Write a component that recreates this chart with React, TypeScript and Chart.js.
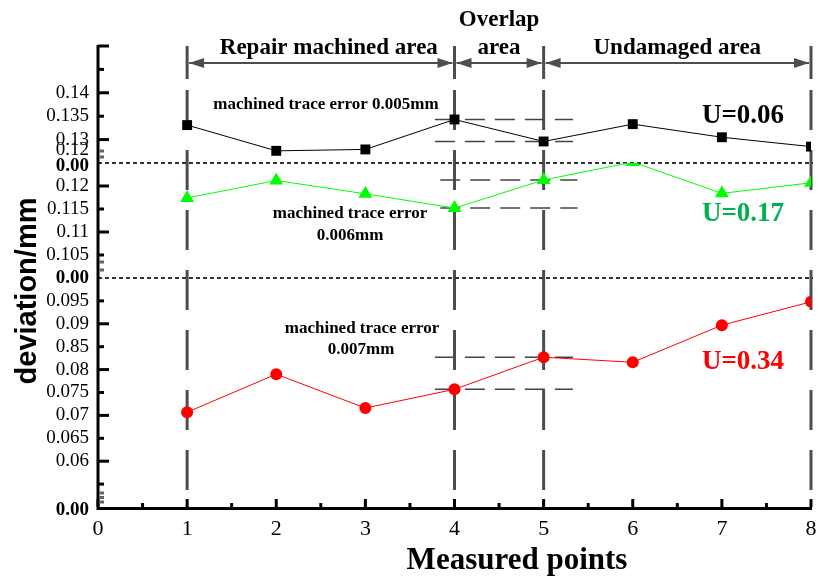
import React, { useEffect, useRef } from 'react';
import { Chart, registerables } from 'chart.js';

Chart.register(...registerables);

// ---- data ----
const xPoints = [1, 2, 3, 4, 5, 6, 7, 8];
const blackValues = [0.1331, 0.1276, 0.1279, 0.1343, 0.1296, 0.1333, 0.1305, 0.1285];
const greenValues = [0.1174, 0.1212, 0.1183, 0.1152, 0.1213, 0.1252, 0.1184, 0.1207];
const redValues = [0.0707, 0.079, 0.0716, 0.0757, 0.0827, 0.0816, 0.0897, 0.0948];

const topRange = [0.125, 0.15];
const midRange = [0.1, 0.125];
const botRange = [0.05, 0.1];

const topTicks = [0.15, 0.145, 0.14, 0.135, 0.13, 0.1278, 0.1243];
const topLabels = ['', '', '0.14', '0.135', '0.13', '0.12', '0.00'];
const topLong = [0.15, 0.14, 0.13];
const topShort = [0.145, 0.135];

const midTicks = [0.12, 0.115, 0.11, 0.105, 0.0999];
const midLabels = ['0.12', '0.115', '0.11', '0.105', '0.00'];
const midLong = [0.12, 0.11];
const midShort = [0.115, 0.105];

const botTicks = [0.095, 0.09, 0.085, 0.08, 0.075, 0.07, 0.065, 0.06, 0.0494];
const botLabels = ['0.095', '0.09', '0.85', '0.08', '0.075', '0.07', '0.065', '0.06', '0.00'];
const botLong = [0.09, 0.08, 0.07, 0.06];
const botShort = [0.095, 0.085, 0.075, 0.065, 0.055];

const xMajorTicks = [0, 1, 2, 3, 4, 5, 6, 7, 8];
const xMinorTicks = [0.5, 1.5, 2.5, 3.5, 4.5, 5.5, 6.5, 7.5];

const areaBounds = [1, 4, 5, 8];
const areaTitles = ['Repair machined area', 'area', 'Undamaged area'];
const overlapTop = 'Overlap';

const uLabels = ['U=0.06', 'U=0.17', 'U=0.34'];
const errorNotes = ['machined trace error 0.005mm', 'machined trace error', '0.006mm', 'machined trace error', '0.007mm'];

const SERIF = "'Liberation Serif', 'Times New Roman', serif";
const SANS = "'Liberation Sans', Arial, sans-serif";

function yScaleOpts(range: number[], ticks: number[], labels: string[], weight: number) {
  return {
    type: 'linear' as const,
    position: 'left' as const,
    stack: 'dev',
    stackWeight: weight,
    min: range[0],
    max: range[1],
    grid: { display: false },
    border: { display: false },
    afterBuildTicks: (scale: any) => {
      scale.ticks = ticks.map((v) => ({ value: v }));
    },
    afterFit: (scale: any) => {
      scale.width = 98;
    },
    ticks: {
      autoSkip: false,
      padding: 1,
      color: '#000',
      font: (ctx: any) => ({
        family: SERIF,
        size: 19,
        weight: labels[ctx.index] === '0.00' ? 'bold' : 'normal',
      }),
      callback: (_v: any, i: number) => labels[i],
    },
  };
}

const decorPlugin = {
  id: 'decor',
  beforeDatasetsDraw(chart: any) {
    const ctx = chart.ctx;
    const xs = chart.scales.x;
    const yT = chart.scales.yTop;
    const yM = chart.scales.yMid;
    const yB = chart.scales.yBot;
    const area = chart.chartArea;
    ctx.save();
    // vertical dashed area boundaries
    ctx.strokeStyle = '#4d4d4d';
    ctx.lineWidth = 3;
    ctx.setLineDash([40, 20]);
    ctx.lineDashOffset = 0;
    areaBounds.forEach((b) => {
      const px = xs.getPixelForValue(b);
      ctx.beginPath();
      ctx.moveTo(px, 90);
      ctx.lineTo(px, area.bottom);
      ctx.stroke();
    });
    // dotted break lines
    ctx.strokeStyle = '#333';
    ctx.lineWidth = 2;
    ctx.setLineDash([4, 3]);
    [yM.getPixelForValue(midRange[1]), yB.getPixelForValue(botRange[1])].forEach((py) => {
      ctx.beginPath();
      ctx.moveTo(area.left, py);
      ctx.lineTo(area.right + 2, py);
      ctx.stroke();
    });
    // horizontal reference dashed lines at points 4 and 5
    ctx.strokeStyle = '#444';
    ctx.lineWidth = 1.5;
    ctx.setLineDash([20, 10]);
    const refs: [any, number[], number, number][] = [
      [yT, blackValues, 3.78, 5.33],
      [yM, greenValues, 3.84, 5.38],
      [yB, redValues, 3.78, 5.33],
    ];
    refs.forEach(([sc, vals, a, b]) => {
      [vals[3], vals[4]].forEach((v) => {
        const py = sc.getPixelForValue(v);
        ctx.beginPath();
        ctx.moveTo(xs.getPixelForValue(a), py);
        ctx.lineTo(xs.getPixelForValue(b), py);
        ctx.stroke();
      });
    });
    ctx.restore();
  },
  afterDraw(chart: any) {
    const ctx = chart.ctx;
    const xs = chart.scales.x;
    const yT = chart.scales.yTop;
    const yM = chart.scales.yMid;
    const yB = chart.scales.yBot;
    const area = chart.chartArea;
    ctx.save();
    ctx.setLineDash([]);
    // axes lines
    ctx.strokeStyle = '#000';
    ctx.lineWidth = 3;
    ctx.beginPath();
    ctx.moveTo(area.left, area.top - 1);
    ctx.lineTo(area.left, area.bottom + 1.5);
    ctx.lineTo(area.right + 1, area.bottom + 1.5);
    ctx.stroke();
    // y ticks (inward)
    const drawYT = (sc: any, vals: number[], len: number) => {
      vals.forEach((v) => {
        const py = sc.getPixelForValue(v);
        ctx.beginPath();
        ctx.moveTo(area.left, py);
        ctx.lineTo(area.left + len, py);
        ctx.stroke();
      });
    };
    drawYT(yT, topLong, 11);
    drawYT(yT, topShort, 6);
    drawYT(yM, midLong, 11);
    drawYT(yM, midShort, 6);
    drawYT(yB, botLong, 11);
    drawYT(yB, botShort, 6);
    // x ticks (inward)
    xMajorTicks.forEach((v) => {
      const px = xs.getPixelForValue(v);
      ctx.beginPath();
      ctx.moveTo(px, area.bottom);
      ctx.lineTo(px, area.bottom - 8);
      ctx.stroke();
    });
    xMinorTicks.forEach((v) => {
      const px = xs.getPixelForValue(v);
      ctx.beginPath();
      ctx.moveTo(px, area.bottom);
      ctx.lineTo(px, area.bottom - 4);
      ctx.stroke();
    });
    // break marks
    ctx.fillStyle = '#666';
    const tB = yT.getPixelForValue(topRange[0]);
    const mB = yM.getPixelForValue(midRange[0]);
    const bB = yB.getPixelForValue(botRange[0]);
    [tB - 12, tB - 6, mB - 16, mB - 8, bB - 14, bB - 9.5, bB - 5].forEach((py) => {
      ctx.fillRect(area.left + 1, py - 1.5, 5, 3);
    });

    // dimension lines
    const dimY = 63;
    ctx.strokeStyle = '#4d4d4d';
    ctx.fillStyle = '#4d4d4d';
    ctx.lineWidth = 3;
    const bx = areaBounds.map((b) => xs.getPixelForValue(b));
    bx.forEach((px) => {
      ctx.beginPath();
      ctx.moveTo(px, 46);
      ctx.lineTo(px, 79);
      ctx.stroke();
    });
    ctx.lineWidth = 2;
    for (let i = 0; i < bx.length - 1; i++) {
      const a = bx[i] + 2;
      const b = bx[i + 1] - 2;
      ctx.beginPath();
      ctx.moveTo(a, dimY);
      ctx.lineTo(b, dimY);
      ctx.stroke();
      ctx.beginPath();
      ctx.moveTo(a, dimY);
      ctx.lineTo(a + 15, dimY - 5);
      ctx.lineTo(a + 15, dimY + 5);
      ctx.closePath();
      ctx.fill();
      ctx.beginPath();
      ctx.moveTo(b, dimY);
      ctx.lineTo(b - 15, dimY - 5);
      ctx.lineTo(b - 15, dimY + 5);
      ctx.closePath();
      ctx.fill();
    }

    // area titles
    ctx.fillStyle = '#000';
    ctx.textAlign = 'center';
    ctx.textBaseline = 'middle';
    ctx.font = `bold 23px ${SERIF}`;
    ctx.fillText(areaTitles[0], (bx[0] + bx[1]) / 2 + 8, 48);
    ctx.fillText(areaTitles[1], (bx[1] + bx[2]) / 2, 48);
    ctx.fillText(overlapTop, (bx[1] + bx[2]) / 2, 20);
    ctx.fillText(areaTitles[2], (bx[2] + bx[3]) / 2, 48);

    // error notes
    ctx.font = `bold 17px ${SERIF}`;
    ctx.fillText(errorNotes[0], 326, 105);
    ctx.fillText(errorNotes[1], 350, 214);
    ctx.fillText(errorNotes[2], 350, 236);
    ctx.fillText(errorNotes[3], 362, 329);
    ctx.fillText(errorNotes[4], 361, 350);

    // U labels
    ctx.font = `bold 27px ${SERIF}`;
    ctx.fillStyle = '#000';
    ctx.fillText(uLabels[0], 743, 116);
    ctx.fillStyle = '#00b050';
    ctx.fillText(uLabels[1], 743, 214);
    ctx.fillStyle = '#ff0000';
    ctx.fillText(uLabels[2], 743, 362);

    // axis titles
    ctx.fillStyle = '#000';
    ctx.font = `bold 31px ${SERIF}`;
    ctx.fillText('Measured points', 517, 561);
    ctx.save();
    ctx.translate(28, 291);
    ctx.rotate(-Math.PI / 2);
    ctx.font = `bold 29px ${SANS}`;
    ctx.fillText('deviation/mm', 0, 0);
    ctx.restore();

    ctx.restore();
  },
};

export default function App() {
  const ref = useRef<HTMLCanvasElement | null>(null);
  useEffect(() => {
    document.body.style.margin = '0';
    const canvas = ref.current;
    if (!canvas) return;
    const mk = (vals: number[]) => xPoints.map((x, i) => ({ x, y: vals[i] }));
    const chart = new Chart(canvas, {
      type: 'line',
      data: {
        datasets: [
          {
            data: mk(blackValues),
            yAxisID: 'yTop',
            borderColor: '#000',
            backgroundColor: '#000',
            borderWidth: 1,
            pointStyle: 'rect',
            pointRadius: 7,
            pointBorderWidth: 0,
          },
          {
            data: mk(greenValues),
            yAxisID: 'yMid',
            borderColor: '#00ff00',
            backgroundColor: '#00ff00',
            borderWidth: 1,
            pointStyle: 'triangle',
            pointRadius: 8,
            pointBorderWidth: 0,
          },
          {
            data: mk(redValues),
            yAxisID: 'yBot',
            borderColor: '#ff0000',
            backgroundColor: '#ff0000',
            borderWidth: 1,
            pointStyle: 'circle',
            pointRadius: 6,
            pointBorderWidth: 0,
          },
        ],
      },
      options: {
        responsive: false,
        animation: false,
        devicePixelRatio: 1,
        layout: { padding: { top: 46, right: 15, left: 0, bottom: 0 } },
        plugins: { legend: { display: false }, tooltip: { enabled: false } },
        scales: {
          x: {
            type: 'linear',
            position: 'bottom',
            min: 0,
            max: 8,
            grid: { display: false },
            border: { display: false },
            afterBuildTicks: (scale: any) => {
              scale.ticks = xMajorTicks.map((v) => ({ value: v }));
            },
            afterFit: (scale: any) => {
              scale.height = 71;
            },
            ticks: {
              autoSkip: false,
              padding: 1,
              color: '#000',
              maxRotation: 0,
              font: { family: SERIF, size: 22 },
            },
          },
          // stacked scales are laid out bottom-up in definition order
          yBot: yScaleOpts(botRange, botTicks, botLabels, 229),
          yMid: yScaleOpts(midRange, midTicks, midLabels, 115),
          yTop: yScaleOpts(topRange, topTicks, topLabels, 117),
        } as any,
      },
      plugins: [decorPlugin],
    });
    return () => chart.destroy();
  }, []);
  return (
    <div style={{ position: 'absolute', left: 0, top: 0, width: 826, height: 578, background: '#fff' }}>
      <canvas ref={ref} width={826} height={578} />
    </div>
  );
}
